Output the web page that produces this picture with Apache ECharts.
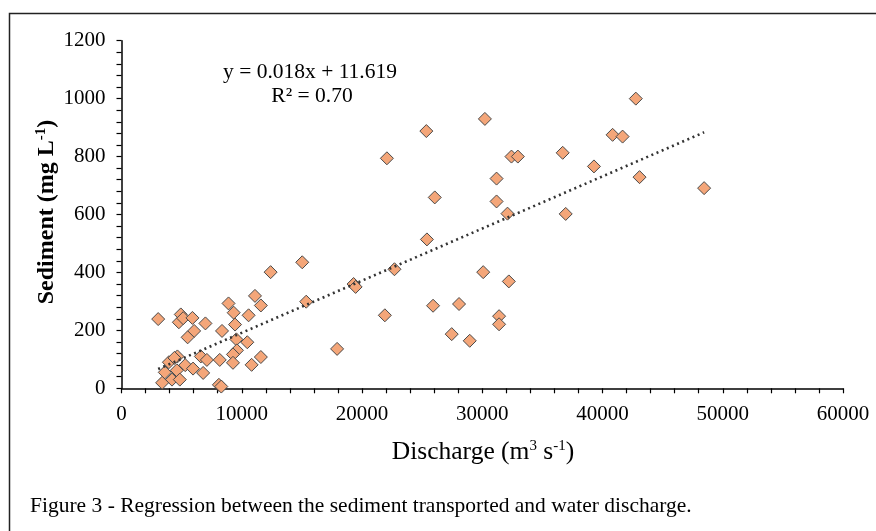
<!DOCTYPE html>
<html>
<head>
<meta charset="utf-8">
<script src="https://cdn.jsdelivr.net/npm/echarts@6/dist/echarts.min.js"></script>
<style>
html,body{margin:0;padding:0;background:#fff;}
#chart{width:876px;height:531px;}
</style>
</head>
<body>
<div id="chart"></div>
<script>
// Discharge (m3 s-1)
const discharge = [
  3050, 4770, 4930, 5130, 5900, 6980, 6040, 5500, 4650, 3940,
  4400, 5300, 3600, 4600, 5950, 6790, 4200, 4850, 3380, 6600,
  7100, 8170, 8100, 8300, 8360, 8900, 9330, 9440, 9550, 9600,
  9270, 9270, 10460, 10570, 10820, 11100, 11590, 11590, 12400, 15030,
  15360, 17930, 19300, 19470, 21900, 22070, 22700, 25350, 25400, 26050,
  25910, 28070, 27460, 28960, 30080, 30220, 31190, 31190, 32100, 32210,
  31400, 31400, 32430, 32960, 36690, 36940, 39290, 40840, 41670, 42770,
  43080, 48450
];
// Sediment (mg L-1)
const sediment = [
  239, 228, 255, 242, 243, 224, 198, 176, 110, 90,
  105, 80, 55, 62, 68, 53, 30, 30, 19, 110,
  98, 98, 12, 6, 198, 293, 261, 220, 169, 131,
  117, 88, 159, 252, 81, 319, 286, 108, 401, 435,
  299, 136, 360, 350, 252, 794, 411, 888, 514, 659,
  285, 291, 187, 164, 401, 930, 724, 645, 603, 369,
  249, 221, 800, 800, 813, 602, 766, 875, 869, 1000,
  729, 691
];
// Regression
const slope = [0.018];
const intercept = [11.619];
const equationText = ['y = 0.018x + 11.619', 'R² = 0.70'];
const xTicks = ['0','10000','20000','30000','40000','50000','60000'];
const yTicks = ['0','200','400','600','800','1000','1200'];

const points = discharge.map((d, i) => [d, sediment[i]]);
const xMin = Math.min(...discharge), xMax = Math.max(...discharge);
const trend = [[xMin, slope[0]*xMin + intercept[0]], [xMax, slope[0]*xMax + intercept[0]]];

const serif = '"Liberation Serif", "DejaVu Serif", serif';
const chart = echarts.init(document.getElementById('chart'));
chart.setOption({
  animation: false,
  backgroundColor: '#fff',
  grid: {left: 121.5, right: 33, top: 40.7, bottom: 142.7, containLabel: false},
  xAxis: {
    type: 'value', min: 0, max: 60000, interval: 10000,
    axisLine: {show: true, onZero: false, lineStyle: {color: '#000', width: 1.5}},
    axisTick: {show: true, inside: false, length: 5, lineStyle: {color: '#000', width: 1.2}},
    minorTick: {show: true, splitNumber: 5, length: 5, lineStyle: {color: '#000', width: 1.2}},
    splitLine: {show: false},
    axisLabel: {color: '#000', fontFamily: serif, fontSize: 21, margin: 16,
      formatter: (v) => xTicks[Math.round(v / 10000)]}
  },
  yAxis: {
    type: 'value', min: 0, max: 1200, interval: 200,
    axisLine: {show: true, onZero: false, lineStyle: {color: '#000', width: 1.5}},
    axisTick: {show: true, inside: false, length: 5, lineStyle: {color: '#000', width: 1.2}},
    minorTick: {show: true, splitNumber: 5, length: 5, lineStyle: {color: '#000', width: 1.2}},
    splitLine: {show: false},
    axisLabel: {color: '#000', fontFamily: serif, fontSize: 21, margin: 16,
      formatter: (v) => yTicks[Math.round(v / 200)]}
  },
  series: [
    {
      type: 'scatter', data: points, symbol: 'diamond', symbolSize: 13,
      itemStyle: {color: '#F4A679', borderColor: '#4a4a4a', borderWidth: 1, opacity: 1},
      z: 2
    },
    {
      type: 'line', data: trend, symbol: 'none', silent: true,
      lineStyle: {color: '#333', width: 2.6, type: [2, 3.6]},
      z: 3
    }
  ],
  graphic: [
    {type: 'rect', left: 7, top: 11, shape: {width: 900, height: 560},
      style: {fill: 'none', stroke: '#222', lineWidth: 1.5}, silent: true, z: 100},
    {type: 'text', x: 310, y: 72, style: {text: equationText[0], font: '21.5px ' + serif,
      fill: '#000', align: 'center', verticalAlign: 'middle'}},
    {type: 'text', x: 312, y: 96, style: {text: equationText[1], font: '21.5px ' + serif,
      fill: '#000', align: 'center', verticalAlign: 'middle'}},
    {type: 'text', x: 47, y: 212, rotation: Math.PI / 2,
      style: {text: '{t|Sediment (mg L}{s|-1}{t|)}', align: 'center', verticalAlign: 'middle',
        rich: {t: {fontFamily: serif, fontSize: 24, fontWeight: 'bold', fill: '#000'},
               s: {fontFamily: serif, fontSize: 15, fontWeight: 'bold', fill: '#000', verticalAlign: 'top', padding: [0,0,12,0]}}}},
    {type: 'text', x: 483, y: 452,
      style: {text: '{t|Discharge (m}{s|3}{t| s}{s|-1}{t|)}', align: 'center', verticalAlign: 'middle',
        rich: {t: {fontFamily: serif, fontSize: 25.5, fill: '#000'},
               s: {fontFamily: serif, fontSize: 15, fill: '#000', verticalAlign: 'top', padding: [0,0,12,0]}}}},
    {type: 'text', x: 30, y: 506,
      style: {text: 'Figure 3 - Regression between the sediment transported and water discharge.',
        font: '21.5px ' + serif, fill: '#000', align: 'left', verticalAlign: 'middle'}}
  ]
});
</script>
</body>
</html>
